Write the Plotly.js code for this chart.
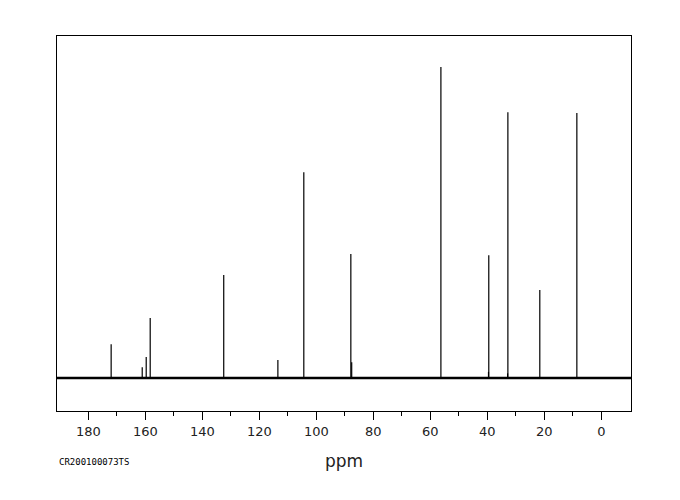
<!DOCTYPE html>
<html>
<head>
<meta charset="utf-8">
<script src="https://cdn.plot.ly/plotly-3.0.1.min.js"></script>
<style>html,body{margin:0;padding:0;background:#fff;}#chart{width:680px;height:500px;}</style>
</head>
<body>
<div id="chart"></div>
<script>
// Peak positions (ppm) and relative intensities
const peakShift = [172.0, 161.1, 159.7, 158.3, 132.5, 113.5, 104.4, 87.9, 87.6, 56.3, 39.6, 39.5, 32.9, 32.8, 21.6, 8.6];
const peakHeight = [10.9, 3.5, 6.8, 19.3, 33.1, 5.8, 66.2, 39.9, 5.1, 100.0, 2.0, 39.5, 1.5, 85.5, 28.3, 85.2];
const baselineX = [191, -10.5];
const baselineY = [0, 0];
const tickVals = [180, 160, 140, 120, 100, 80, 60, 40, 20, 0];
const minorTickVals = [170, 150, 130, 110, 90, 70, 50, 30, 10];
const sampleId = "CR200100073TS";

const px = [], py = [];
for (let i = 0; i < peakShift.length; i++) {
  px.push(peakShift[i], peakShift[i], null);
  py.push(0, peakHeight[i], null);
}

const traces = [
  {x: baselineX, y: baselineY, mode: 'lines', line: {color: '#000', width: 2.5}, hoverinfo: 'skip', showlegend: false},
  {x: px, y: py, mode: 'lines', line: {color: '#000', width: 1.2}, connectgaps: false, hoverinfo: 'skip', showlegend: false}
];

const layout = {
  width: 680, height: 500,
  margin: {l: 57, r: 49, t: 36, b: 89},
  paper_bgcolor: '#fff', plot_bgcolor: '#fff',
  showlegend: false,
  xaxis: {
    range: [191, -10.4], autorange: false,
    showgrid: false, zeroline: false,
    showline: true, mirror: true, linecolor: '#000', linewidth: 1,
    tickmode: 'array', tickvals: tickVals, ticktext: tickVals.map(String),
    ticks: 'outside', ticklen: 8, tickwidth: 1, tickcolor: '#000',
    minor: {tickmode: 'array', tickvals: minorTickVals, ticks: 'outside', ticklen: 4, tickwidth: 1, tickcolor: '#000', showgrid: false},
    tickfont: {family: 'DejaVu Sans', size: 13, color: '#222'},
    title: {text: 'ppm', font: {family: 'DejaVu Sans', size: 17, color: '#222'}, standoff: 17}
  },
  yaxis: {
    range: [-10.6, 110.0], autorange: false,
    showgrid: false, zeroline: false, showticklabels: false, ticks: '',
    showline: true, mirror: true, linecolor: '#000', linewidth: 1
  },
  annotations: [{
    text: sampleId, xref: 'paper', yref: 'paper', x: 0, y: -0.136,
    xanchor: 'left', yanchor: 'middle', showarrow: false,
    font: {family: 'DejaVu Sans Mono', size: 9, color: '#000'}
  }]
};

Plotly.newPlot('chart', traces, layout, {displayModeBar: false, staticPlot: true});
</script>
</body>
</html>
